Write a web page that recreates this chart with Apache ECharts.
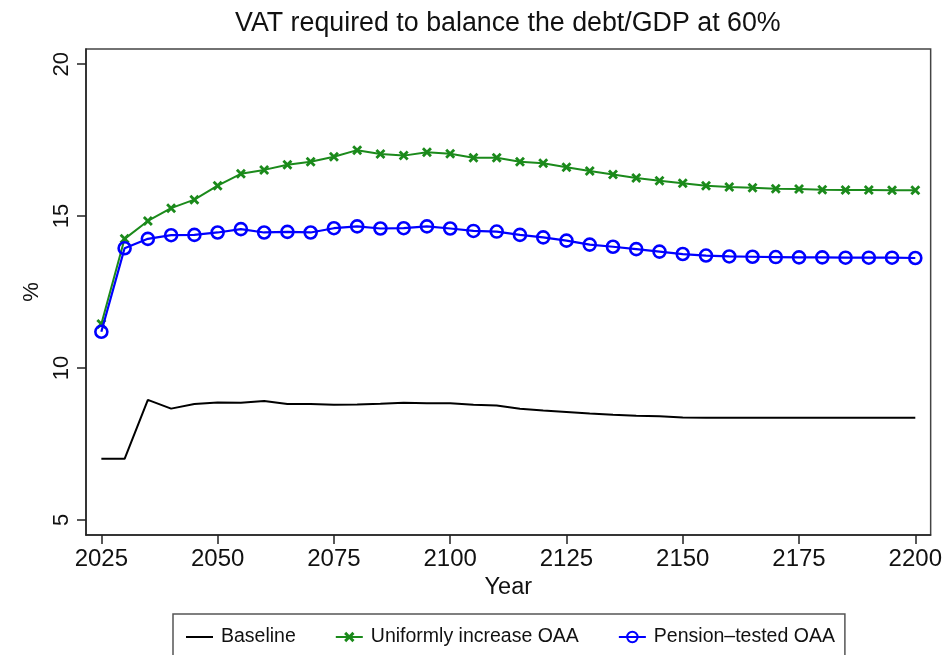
<!DOCTYPE html>
<html>
<head>
<meta charset="utf-8">
<script src="https://cdn.jsdelivr.net/npm/echarts@6/dist/echarts.min.js"></script>
<style>
  html, body { margin: 0; padding: 0; background: #fff; overflow: hidden; }
  #chart { width: 945px; height: 655px; }
</style>
</head>
<body>
<div id="chart"></div>
<script>
// Projection years (every 5 years)
const years = [2025, 2030, 2035, 2040, 2045, 2050, 2055, 2060, 2065, 2070, 2075, 2080,
               2085, 2090, 2095, 2100, 2105, 2110, 2115, 2120, 2125, 2130, 2135, 2140,
               2145, 2150, 2155, 2160, 2165, 2170, 2175, 2180, 2185, 2190, 2195, 2200];

// VAT rate (%) needed to hold debt/GDP at 60%
const baseline = [7.01, 7.01, 8.95, 8.66, 8.81, 8.86, 8.85, 8.91, 8.81, 8.81, 8.79, 8.80,
                  8.82, 8.85, 8.84, 8.84, 8.79, 8.76, 8.66, 8.60, 8.55, 8.50, 8.46, 8.43,
                  8.41, 8.37, 8.36, 8.36, 8.36, 8.36, 8.36, 8.36, 8.36, 8.36, 8.36, 8.36];
const uniformOAA = [11.45, 14.25, 14.84, 15.26, 15.54, 16.00, 16.39, 16.52, 16.69, 16.79, 16.95, 17.17,
                    17.04, 16.99, 17.10, 17.05, 16.92, 16.92, 16.79, 16.74, 16.61, 16.48, 16.37, 16.25,
                    16.16, 16.08, 16.00, 15.96, 15.93, 15.90, 15.89, 15.87, 15.86, 15.86, 15.85, 15.85];
const pensionTestedOAA = [11.19, 13.94, 14.25, 14.37, 14.38, 14.46, 14.57, 14.46, 14.48, 14.46, 14.60, 14.66,
                          14.59, 14.60, 14.66, 14.59, 14.51, 14.49, 14.38, 14.30, 14.19, 14.06, 13.99, 13.91,
                          13.83, 13.75, 13.70, 13.67, 13.66, 13.65, 13.64, 13.64, 13.63, 13.63, 13.63, 13.62];

// Tick labels
const xTicks = [2025, 2050, 2075, 2100, 2125, 2150, 2175, 2200];
const yTicks = [5, 10, 15, 20];

const seriesNames = ['Baseline', 'Uniformly increase OAA', 'Pension\u2013tested OAA'];
const GREEN = '#1b8a1b';
const BLUE = '#0000ff';
const FONT = 'Liberation Sans, Arial, Helvetica, sans-serif';

// Bold "x" marker
const crossPath = 'path://M2,0 L5,3 L8,0 L10,2 L7,5 L10,8 L8,10 L5,7 L2,10 L0,8 L3,5 L0,2 Z';

const pairs = vals => years.map((y, i) => [y, vals[i]]);

const chart = echarts.init(document.getElementById('chart'), null, { renderer: 'canvas' });

chart.setOption({
  backgroundColor: '#ffffff',
  animation: false,
  textStyle: { fontFamily: FONT },
  title: {
    text: 'VAT required to balance the debt/GDP at 60%',
    left: 235,
    top: 10,
    padding: 0,
    textStyle: { fontFamily: FONT, fontSize: 26.8, fontWeight: 'normal', color: '#111' }
  },
  grid: {
    left: 86, right: 11, top: 49, bottom: 120,
    show: true, borderColor: '#444', borderWidth: 1.5, backgroundColor: '#fff'
  },
  legend: {
    data: seriesNames.map(n => ({ name: n })),
    left: 173,
    top: 614,
    padding: [13, 10, 13, 12],
    itemGap: 39,
    itemWidth: 27,
    itemHeight: 13,
    borderColor: '#555',
    borderWidth: 1.5,
    backgroundColor: '#fff',
    textStyle: { fontFamily: FONT, fontSize: 19.5, color: '#111', padding: [0, 0, 0, 3] }
  },
  xAxis: {
    type: 'value',
    min: 2021.7,
    max: 2203.3,
    name: 'Year',
    nameLocation: 'middle',
    nameGap: 38,
    nameTextStyle: { fontFamily: FONT, fontSize: 23.5, color: '#111' },
    axisLine: { show: true, lineStyle: { color: '#222', width: 1.5 } },
    axisTick: { show: true, inside: false, length: 9, customValues: xTicks, lineStyle: { color: '#222', width: 1.5 } },
    axisLabel: {
      customValues: xTicks, margin: 12, fontFamily: FONT, fontSize: 24, color: '#111',
      formatter: v => String(v)
    },
    splitLine: { show: false }
  },
  yAxis: {
    type: 'value',
    min: 4.5,
    max: 20.5,
    name: '%',
    nameLocation: 'middle',
    nameRotate: 90,
    nameGap: 40,
    nameTextStyle: { fontFamily: FONT, fontSize: 22, color: '#111' },
    axisLine: { show: true, lineStyle: { color: '#222', width: 1.5 } },
    axisTick: { show: true, inside: false, length: 9, customValues: yTicks, lineStyle: { color: '#222', width: 1.5 } },
    axisLabel: {
      customValues: yTicks, rotate: 90, margin: 13, fontFamily: FONT, fontSize: 22, color: '#111',
      formatter: v => String(v)
    },
    splitLine: { show: false }
  },
  series: [
    {
      name: seriesNames[0],
      type: 'line',
      data: pairs(baseline),
      showSymbol: false,
      symbol: 'none',
      lineStyle: { color: '#000', width: 2 },
      // transparent so the legend shows a plain line
      itemStyle: { color: 'rgba(0,0,0,0)', borderWidth: 0 },
      z: 2
    },
    {
      name: seriesNames[1],
      type: 'line',
      data: pairs(uniformOAA),
      symbol: crossPath,
      symbolSize: 10,
      lineStyle: { color: GREEN, width: 2 },
      itemStyle: { color: GREEN },
      z: 3
    },
    {
      name: seriesNames[2],
      type: 'line',
      data: pairs(pensionTestedOAA),
      symbol: 'circle',
      symbolSize: 12,
      lineStyle: { color: BLUE, width: 2.2 },
      itemStyle: { color: 'rgba(0,0,0,0)', borderColor: BLUE, borderWidth: 2.6 },
      z: 4
    }
  ]
});
</script>
</body>
</html>
